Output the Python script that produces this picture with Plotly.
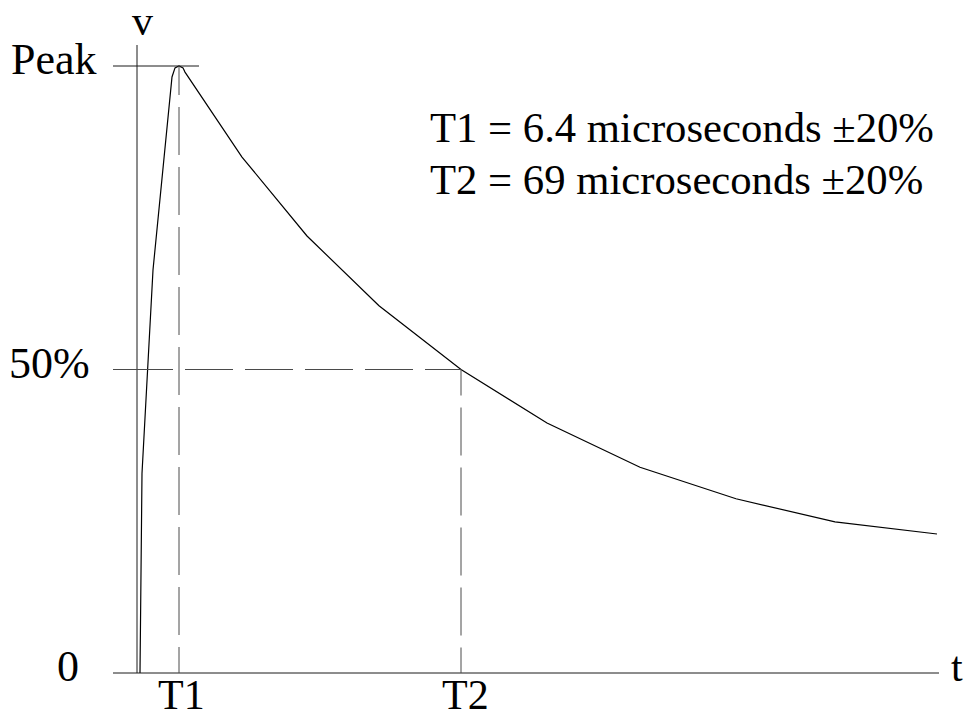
"""
Impulse waveform sketch (T1 front time / T2 time to half value) drawn with Plotly.
"""
import plotly.graph_objects as go

# --- data -----------------------------------------------------------------
# t in sketch units (the y axis sits at t = 0), v in % of peak
wave_t = [0.75, 1.25, 4.0, 8.75, 9.5, 10.5, 11.5, 12.0, 26.25, 42.5, 60.5,
          81.0, 102.5, 125.75, 149.75, 174.5, 200.0]
wave_v = [0.0, 32.9, 66.4, 98.2, 99.7, 100.0, 99.7, 99.0, 85.0, 72.0, 60.5,
          50.0, 41.2, 33.9, 28.7, 24.9, 22.9]

t_marks = [10.5, 81.0]
t_labels = ["T1", "T2"]
v_marks = [0.0, 50.0, 100.0]
v_labels = ["0", "50%", "Peak"]
notes = ["T1 = 6.4 microseconds ±20%", "T2 = 69 microseconds ±20%"]

AXIS_T = [-6.0, 200.5]      # horizontal axis extent
AXIS_V = [0.0, 103.46]      # vertical axis extent
PEAK_TICK_END = 15.5

FONT = "Liberation Serif, Times New Roman, serif"
INK = "#1a1a1a"
DASH_C = "#4a4a4a"


def _dash(first, first_gap=12, n=12):
    parts = [f"{first}px", f"{first_gap}px"] + ["48px", "12px"] * n
    return ",".join(parts)


def _font(size):
    return dict(family=FONT, size=size, color="#000000")


fig = go.Figure()

shapes = [
    # axes and peak tick
    dict(type="line", x0=AXIS_T[0], x1=AXIS_T[1], y0=0, y1=0,
         line=dict(color=INK, width=1)),
    dict(type="line", x0=0, x1=0, y0=AXIS_V[0], y1=AXIS_V[1],
         line=dict(color=INK, width=1)),
    dict(type="line", x0=AXIS_T[0], x1=PEAK_TICK_END, y0=v_marks[2], y1=v_marks[2],
         line=dict(color=INK, width=1)),
    # dashed guides
    dict(type="line", x0=AXIS_T[0], x1=t_marks[1], y0=v_marks[1], y1=v_marks[1],
         line=dict(color=DASH_C, width=1, dash=_dash(60))),
    dict(type="line", x0=t_marks[0], x1=t_marks[0], y0=v_marks[2], y1=0,
         line=dict(color=DASH_C, width=1, dash=_dash(29))),
    dict(type="line", x0=t_marks[1], x1=t_marks[1], y0=v_marks[1], y1=0,
         line=dict(color=DASH_C, width=1, dash=_dash(26))),
]

fig.add_trace(go.Scatter(
    x=wave_t, y=wave_v, mode="lines",
    line=dict(color="#000000", width=1.2),
    hoverinfo="skip", showlegend=False,
))

ann = []
# y-axis labels
for v, lab, xs, ys in zip(v_marks, v_labels, [-32, -21, -14], [6.5, 6, 7]):
    ann.append(dict(x=AXIS_T[0], y=v, text=lab, showarrow=False, xanchor="right",
                    yanchor="middle", xshift=xs, yshift=ys, font=_font(44)))
# x-axis labels
for t, lab, xs in zip(t_marks, t_labels, [2, 4]):
    ann.append(dict(x=t, y=0, text=lab, showarrow=False, xanchor="center",
                    yanchor="top", xshift=xs, yshift=3, font=_font(42)))
ann.append(dict(x=0, y=AXIS_V[1], text="v", showarrow=False, xanchor="center",
                yanchor="bottom", xshift=5, yshift=-1, font=_font(42)))
ann.append(dict(x=AXIS_T[1], y=0, text="t", showarrow=False, xanchor="left",
                yanchor="middle", xshift=10, yshift=6, font=_font(42)))
# notes
for note, v in zip(notes, [89.8, 81.25]):
    ann.append(dict(x=72.75, y=v, text=note, showarrow=False, xanchor="left",
                    yanchor="middle", font=_font(42.7)))

fig.update_layout(
    width=966, height=717,
    margin=dict(l=100, r=20, t=20, b=24),
    paper_bgcolor="white", plot_bgcolor="white",
    shapes=shapes, annotations=ann, showlegend=False,
)
fig.update_xaxes(range=[-9.25, 202.25], visible=False, fixedrange=True)
fig.update_yaxes(range=[-3.295, 107.58], visible=False, fixedrange=True)

# drop the default 8px body margin so the figure fills the window exactly
fig.write_html(
    "out.html",
    config={"displayModeBar": False},
    post_script="document.body.style.margin = '0';",
)
